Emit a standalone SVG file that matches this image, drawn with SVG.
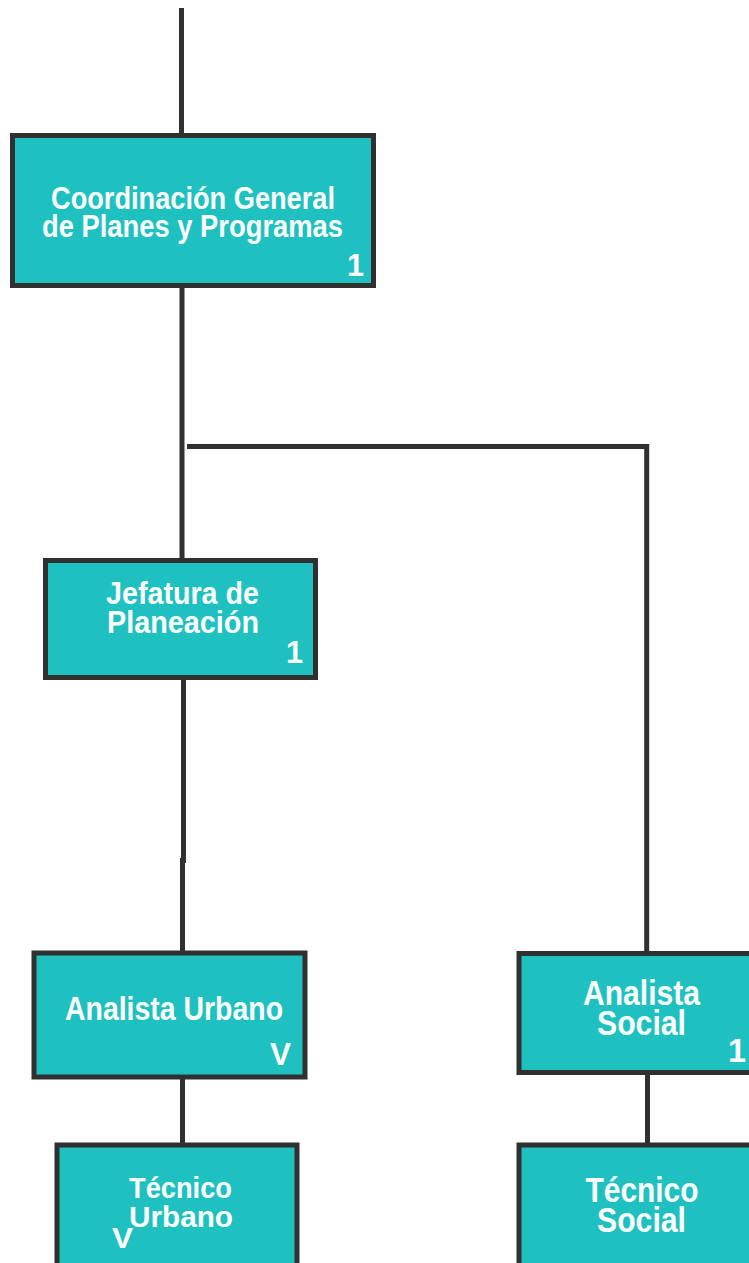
<svg xmlns="http://www.w3.org/2000/svg" width="749" height="1263" viewBox="0 0 749 1263">
<style>
.box{fill:#1EC1BF;stroke:#303030;stroke-width:5}
.ln{fill:none;stroke:#303030;stroke-width:5}
text{font-family:"Liberation Sans",Arial,sans-serif;font-weight:bold;fill:#ffffff}
</style>
<rect width="749" height="1263" fill="#ffffff"/>
<g id="connectors">
<line class="ln" x1="181.5" y1="8" x2="181.5" y2="136"/>
<line class="ln" x1="182" y1="286" x2="182" y2="560"/>
<polyline class="ln" points="187,446.5 646.7,446.5 646.7,953"/>
<line class="ln" x1="183.5" y1="678" x2="183.5" y2="863"/>
<line class="ln" x1="182.5" y1="858" x2="182.5" y2="953"/>
<line class="ln" x1="182.5" y1="1077" x2="182.5" y2="1145"/>
<line class="ln" x1="647.5" y1="1073" x2="647.5" y2="1145"/>
</g>
<g id="coordinacion">
<rect class="box" x="12.5" y="135.5" width="361" height="150"/>
<text x="51" y="209" font-size="31" textLength="284" lengthAdjust="spacingAndGlyphs">Coordinación General</text>
<text x="42" y="237" font-size="31" textLength="301" lengthAdjust="spacingAndGlyphs">de Planes y Programas</text>
<text x="347" y="276" font-size="32" textLength="17" lengthAdjust="spacingAndGlyphs">1</text>
</g>
<g id="jefatura">
<rect class="box" x="45.5" y="560.5" width="270" height="117"/>
<text x="106" y="604" font-size="32" textLength="153" lengthAdjust="spacingAndGlyphs">Jefatura de</text>
<text x="107" y="633" font-size="32" textLength="152" lengthAdjust="spacingAndGlyphs">Planeación</text>
<text x="286" y="663" font-size="32" textLength="17" lengthAdjust="spacingAndGlyphs">1</text>
</g>
<g id="analista-urbano">
<rect class="box" x="34" y="953" width="271" height="124"/>
<text x="65" y="1020" font-size="32.5" textLength="218" lengthAdjust="spacingAndGlyphs">Analista Urbano</text>
<text x="270" y="1065" font-size="32" textLength="21" lengthAdjust="spacingAndGlyphs">V</text>
</g>
<g id="tecnico-urbano">
<rect class="box" x="57" y="1145" width="240" height="140"/>
<text x="129" y="1198" font-size="30" textLength="103" lengthAdjust="spacingAndGlyphs">Técnico</text>
<text x="129" y="1227" font-size="30" textLength="104" lengthAdjust="spacingAndGlyphs">Urbano</text>
<text x="112" y="1248" font-size="30" textLength="21" lengthAdjust="spacingAndGlyphs">V</text>
</g>
<g id="analista-social">
<rect class="box" x="519" y="953.5" width="260" height="119"/>
<text x="583" y="1005" font-size="35" textLength="117" lengthAdjust="spacingAndGlyphs">Analista</text>
<text x="597" y="1035" font-size="35" textLength="89" lengthAdjust="spacingAndGlyphs">Social</text>
<text x="728" y="1062" font-size="34" textLength="18" lengthAdjust="spacingAndGlyphs">1</text>
</g>
<g id="tecnico-social">
<rect class="box" x="519" y="1145" width="260" height="140"/>
<text x="585.5" y="1202" font-size="34.5" textLength="113" lengthAdjust="spacingAndGlyphs">Técnico</text>
<text x="597" y="1232" font-size="34.5" textLength="89" lengthAdjust="spacingAndGlyphs">Social</text>
</g>
</svg>
